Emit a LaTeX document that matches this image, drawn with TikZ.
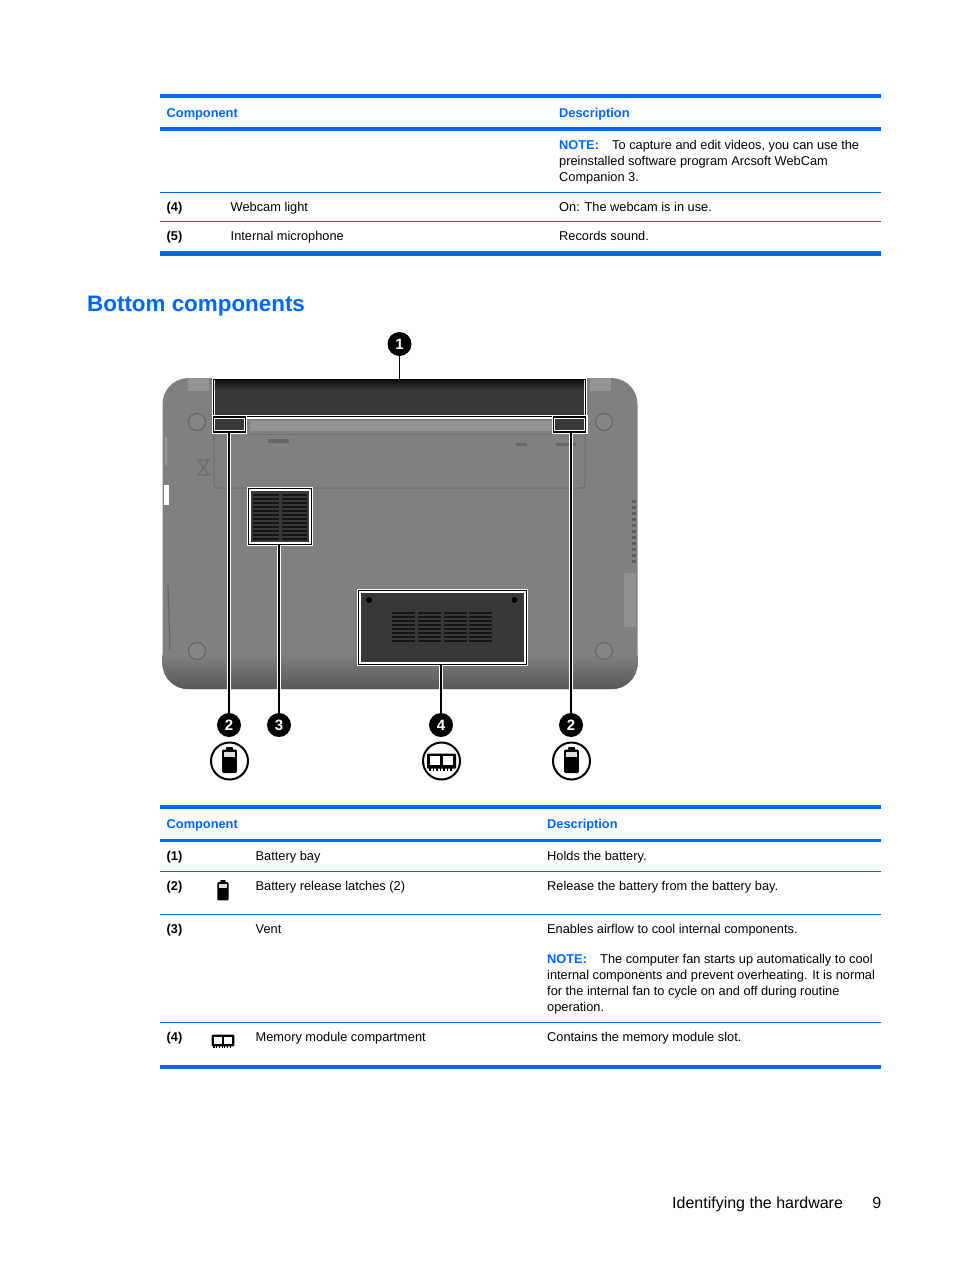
\documentclass[tikz,border=0pt]{standalone}
\usepackage{fontspec}
\setmainfont{Liberation Sans}
\definecolor{hpblue}{HTML}{0066FF}
\tikzset{
	batteryglyph/.pic={
		\fill [black, rounded corners=.8pt] (-3.5,-14) rectangle (3.5,-10);
		\fill [black, rounded corners=1.2pt] (-7.3,-11.5) rectangle (7.3,12);
		\fill [gray!25] (-5.2,-9) rectangle (5.2,-4.5);
	},
	memoryglyph/.pic={
		\foreach \tx in {-11.5,-8,...,11.5} {
			\fill [black] (\tx-.7,6) rectangle (\tx+.7,9.5);
		}
		\fill [black, rounded corners=1pt] (-14.5,-7.5) rectangle (14.5,7.5);
		\fill [white] (-11.8,-4.7) rectangle (-1.4,4.3);
		\fill [white] (1.4,-4.7) rectangle (11.8,4.3);
	}
}
\begin{document}
\begin{tikzpicture}[x=1pt,y=-1pt]
	\tikzstyle{thickrule}=[hpblue, line width=4.4pt]
	\tikzstyle{midrule}=[hpblue, line width=3.2pt]
	\tikzstyle{thinrule}=[hpblue, line width=.8pt]
	\tikzstyle{celltext}=[inner sep=0pt, anchor=base west, font=\fontsize{12.8}{16}\selectfont]
	\tikzstyle{cellnum}=[celltext, font=\fontsize{12.8}{16}\selectfont\bfseries]
	\tikzstyle{cellhead}=[cellnum, text=hpblue]
	\tikzstyle{cellnote}=[inner sep=0pt, anchor=north west, align=left, font=\fontsize{12.8}{16}\selectfont]
	\tikzstyle{bodyline}=[draw=black!58, line width=1pt]
	\tikzstyle{ring}=[circle, draw=black!60, fill=black!48, line width=1.2pt, minimum size=17pt, inner sep=0pt]
	\tikzstyle{frame}=[rectangle, draw=black, fill=white, line width=1.3pt, inner sep=0pt, preaction={draw=white,line width=3.8pt}]
	\tikzstyle{screen}=[rectangle, fill=black!78, inner sep=0pt]
	\tikzstyle{slat}=[black!92, line width=1.7pt]
	\tikzstyle{leader}=[black, line width=1.4pt, preaction={draw=white,line width=3.8pt}]
	\tikzstyle{callout}=[circle, fill=black, text=white, inner sep=0pt, minimum size=24pt, font=\fontsize{15}{15}\selectfont\bfseries]
	\tikzstyle{iconring}=[circle, draw=black, fill=white, line width=2pt, inner sep=0pt, minimum size=37pt]

	\useasboundingbox (0,0) rectangle (954,1270);
	\fill [white] (0,0) rectangle (954,1270);

	\draw [thickrule] (160,96.2) -- (881,96.2);
	\draw [midrule] (160,129) -- (881,129);
	\draw [thinrule] (160,192.5) -- (881,192.5);
	\draw [thinrule] (160,221.5) -- (881,221.5);
	\draw [thickrule] (160,253.5) -- (881,253.5);
	\node [cellhead] (headcompa) at (166.5,117) {Component};
	\node [cellhead] (headdesca) at (559,117) {Description};
	\node [cellnote] (notea) at (559,140.5) {\makebox[53pt][l]{\textcolor{hpblue}{\bfseries NOTE:}}To capture and edit videos, you can use the\\preinstalled software program Arcsoft WebCam\\Companion 3.};
	\node [cellnum] (numlight) at (166.5,211) {(4)};
	\node [celltext] (namelight) at (230.5,211) {Webcam light};
	\node [celltext] (desclight) at (559,211) {On: The webcam is in use.};
	\node [cellnum] (nummic) at (166.5,240) {(5)};
	\node [celltext] (namemic) at (230.5,240) {Internal microphone};
	\node [celltext] (descmic) at (559,240) {Records sound.};

	\node [inner sep=0pt, anchor=base west, text=hpblue, font=\fontsize{22.4}{28}\selectfont\bfseries] (title) at (87,311) {Bottom components};

	\node [rectangle, rounded corners=26pt, fill=black!50, inner sep=0pt, minimum width=475pt, minimum height=311pt] (body) at (400,533.5) {};
	\begin{scope}
		\clip [rounded corners=26pt] (body.north west) rectangle (body.south east);
		\shade [top color=black!50, bottom color=black!66] (162,655) rectangle (638,690);
	\end{scope}
	\fill [black!42] (188,378) rectangle (209,391);
	\fill [black!42] (590,378) rectangle (611,391);
	\draw [bodyline, rounded corners=3pt] (214,432) -- (214,488) -- (585,488) -- (585,432);
	\draw [black!56, line width=1pt] (248,434) -- (552,434);
	\fill [black!42] (250,421) rectangle (552,431);
	\fill [black!60] (268,439) rectangle (289,443);
	\fill [black!60] (516,443) rectangle (527,446);
	\fill [black!60] (556,443) rectangle (576,446);
	\draw [black!58, line width=1.2pt] (198,460) -- (209,475) -- (198,475) -- (209,460) -- cycle;
	\fill [white] (164,485) rectangle (169,505);
	\draw [black!40, line width=1.4pt] (166,437) -- (166,465);
	\draw [black!60, line width=1.2pt] (168,585) -- (170,650);
	\fill [black!44] (624,573) rectangle (636,627);
	\foreach \ty in {500,506,...,560} {
		\fill [black!64] (632,\ty) rectangle (636,\ty+3);
	}
	\node [ring] (ringa) at (197,422) {};
	\node [ring] (ringb) at (604,422) {};
	\node [ring] (ringc) at (197,651) {};
	\node [ring] (ringd) at (604,651) {};

	\node [frame, minimum width=372pt, minimum height=37.5pt] (bay) at (399.5,398) {};
	\node [screen, minimum width=369pt, minimum height=34pt] (bayscreen) at (399.5,398) {};
	\shade [top color=black!92, bottom color=black!78] (bayscreen.north west) rectangle ([yshift=-10pt]bayscreen.north east);
	\node [frame, minimum width=32pt, minimum height=15pt] (latchl) at (229.5,424.5) {};
	\node [screen, minimum width=29pt, minimum height=11pt] (latchlscreen) at (229.5,424.5) {};
	\node [frame, minimum width=32pt, minimum height=15pt] (latchr) at (569.8,424.5) {};
	\node [screen, minimum width=29pt, minimum height=11pt] (latchrscreen) at (569.8,424.5) {};
	\node [frame, minimum width=63pt, minimum height=56pt] (vent) at (280,516.5) {};
	\node [screen, minimum width=58pt, minimum height=51pt] (ventscreen) at (280,516.5) {};
	\foreach \ty in {495,499,...,539} {
		\draw [slat] (253,\ty) -- (279,\ty);
		\draw [slat] (282,\ty) -- (307,\ty);
	}
	\node [frame, minimum width=168pt, minimum height=74pt] (memory) at (442.5,627.5) {};
	\node [screen, minimum width=163pt, minimum height=69pt] (memoryscreen) at (442.5,627.5) {};
	\foreach \sx in {392,418,444,469} {
		\foreach \ty in {613,617,...,641} {
			\draw [slat] (\sx,\ty) -- (\sx+23,\ty);
		}
	}
	\fill [black] (369,600) circle (3pt);
	\fill [black] (514.5,600) circle (3pt);

	\node [callout] (numa) at (399.5,344) {1};
	\node [callout] (numb) at (229,725) {2};
	\node [callout] (numc) at (279,725) {3};
	\node [callout] (numd) at (441,725) {4};
	\node [callout] (nume) at (571,725) {2};
	\draw [leader] (numa) -- (numa |- bay.north);
	\draw [leader] (numb) -- (numb |- latchl.south);
	\draw [leader] (numc) -- (numc |- vent.south);
	\draw [leader] (numd) -- (numd |- memory.south);
	\draw [leader] (nume) -- (nume |- latchr.south);

	\node [iconring] (iconb) at (229.5,761) {};
	\node [iconring] (icond) at (441.5,761) {};
	\node [iconring] (icone) at (571.5,761) {};
	\pic at (iconb) {batteryglyph};
	\pic at (icond) {memoryglyph};
	\pic at (icone) {batteryglyph};

	\draw [thickrule] (160,807) -- (881,807);
	\draw [midrule] (160,840.5) -- (881,840.5);
	\draw [thinrule] (160,871.5) -- (881,871.5);
	\draw [thinrule] (160,914.5) -- (881,914.5);
	\draw [thinrule] (160,1022.5) -- (881,1022.5);
	\draw [thickrule] (160,1067) -- (881,1067);
	\node [cellhead] (headcompb) at (166.5,828) {Component};
	\node [cellhead] (headdescb) at (547,828) {Description};
	\node [cellnum] (numbay) at (166.5,860) {(1)};
	\node [celltext] (namebay) at (255.5,860) {Battery bay};
	\node [celltext] (descbay) at (547,860) {Holds the battery.};
	\node [cellnum] (numlatch) at (166.5,890) {(2)};
	\pic [scale=.78] at (223,891) {batteryglyph};
	\node [celltext] (namelatch) at (255.5,890) {Battery release latches (2)};
	\node [celltext] (desclatch) at (547,890) {Release the battery from the battery bay.};
	\node [cellnum] (numvent) at (166.5,933) {(3)};
	\node [celltext] (namevent) at (255.5,933) {Vent};
	\node [celltext] (descvent) at (547,933) {Enables airflow to cool internal components.};
	\node [cellnote] (noteb) at (547,954.5) {\makebox[53pt][l]{\textcolor{hpblue}{\bfseries NOTE:}}The computer fan starts up automatically to cool\\internal components and prevent overheating. It is normal\\for the internal fan to cycle on and off during routine\\operation.};
	\node [cellnum] (nummem) at (166.5,1041) {(4)};
	\pic [scale=.78] at (223,1040.5) {memoryglyph};
	\node [celltext] (namemem) at (255.5,1041) {Memory module compartment};
	\node [celltext] (descmem) at (547,1041) {Contains the memory module slot.};

	\node [inner sep=0pt, anchor=base west, font=\fontsize{16}{20}\selectfont] (footer) at (672,1208) {Identifying the hardware};
	\node [inner sep=0pt, anchor=base east, font=\fontsize{16}{20}\selectfont] (pagenum) at (881.5,1208) {9};
\end{tikzpicture}
\end{document}
